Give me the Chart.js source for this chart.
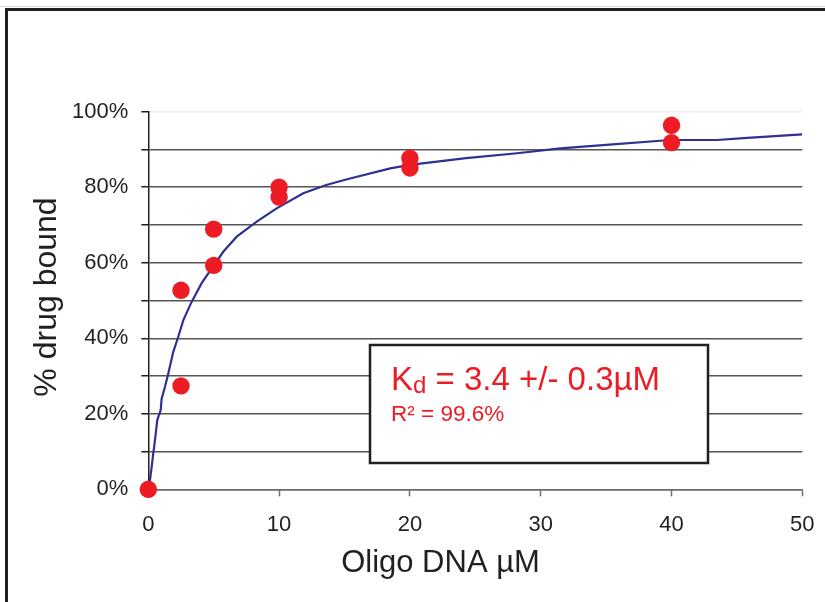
<!DOCTYPE html>
<html>
<head>
<meta charset="utf-8">
<script src="https://cdn.jsdelivr.net/npm/chart.js@4/dist/chart.umd.min.js"></script>
<style>
  html, body { margin: 0; padding: 0; background: #ffffff; }
  #wrap { position: relative; width: 825px; height: 602px; overflow: hidden; }
  #topline { position: absolute; left: 0; top: 6px; width: 825px; height: 1px; background: #d4d4d4; }
  #frame { position: absolute; left: 5px; top: 8px; width: 900px; height: 700px;
           border-left: 3px solid #231f20; border-top: 3px solid #231f20; }
  canvas { position: absolute; left: 0; top: 0; }
</style>
</head>
<body>
<div id="wrap">
  <div id="topline"></div>
  <div id="frame"></div>
  <canvas id="c" width="825" height="602"></canvas>
</div>
<script>
// Measured data points (Oligo DNA µM vs % drug bound)
const concentrations = [0, 2.5, 2.5, 5, 5, 10, 10, 20, 20, 40, 40];
const percentBound   = [0, 27.4, 52.7, 68.9, 59.3, 80.0, 77.4, 87.7, 85.1, 96.4, 91.8];

// Fitted binding curve
const curveX = [0, 0.13, 0.26, 0.38, 0.51, 0.69, 0.95, 1.02, 1.28, 1.53, 1.91, 2.29, 2.68, 3.32, 4.08, 4.85, 5.73, 6.76, 8.29, 9.81, 11.85, 13.6, 15.2, 18.5, 20, 24.3, 28.2, 31.5, 35.0, 39.9, 41.4, 43.5, 45.5, 50];
const curveY = [0, 2.5, 6, 9.5, 13, 18.4, 21, 24, 27.2, 30.7, 36.4, 40.4, 44.8, 49.7, 54.6, 58.5, 62.9, 66.9, 70.9, 74.4, 78.4, 80.6, 82.1, 85.0, 85.9, 87.7, 89.0, 90.3, 91.2, 92.5, 92.5, 92.5, 93.0, 94.0];

// Tick labels
const xTickLabels = ['0', '10', '20', '30', '40', '50'];
const yTickLabels = ['0%', '', '20%', '', '40%', '', '60%', '', '80%', '', '100%'];

// Texts
const xTitle = 'Oligo DNA \u00B5M';
const yTitle = '% drug bound';
const kdMain = 'K';
const kdSub = 'd';
const kdRest = ' = 3.4 +/- 0.3\u00B5M';
const r2Text = 'R\u00B2 = 99.6%';

const FONT = "'Liberation Sans', Arial, Helvetica, sans-serif";
const TEXT = '#231f20';
const RED = '#ed1c24';
const NAVY = '#2e3192';

const pointsData = concentrations.map((x, i) => ({ x: x, y: percentBound[i] }));
const curveData = curveX.map((x, i) => ({ x: x, y: curveY[i] }));

const overlay = {
  id: 'overlay',
  afterDraw(chart) {
    const ctx = chart.ctx;
    ctx.save();
    // Axis titles
    ctx.fillStyle = TEXT;
    ctx.font = '31px ' + FONT;
    ctx.textAlign = 'center';
    ctx.textBaseline = 'alphabetic';
    ctx.fillText(xTitle, 440.5, 571.5);
    ctx.save();
    ctx.font = '32px ' + FONT;
    ctx.translate(56, 297);
    ctx.rotate(-Math.PI / 2);
    ctx.fillText(yTitle, 0, 0);
    ctx.restore();

    // Annotation box
    ctx.fillStyle = '#ffffff';
    ctx.fillRect(370, 345, 338, 118);
    ctx.strokeStyle = TEXT;
    ctx.lineWidth = 2.5;
    ctx.strokeRect(370, 345, 338, 118);

    ctx.fillStyle = RED;
    ctx.textAlign = 'left';
    ctx.textBaseline = 'alphabetic';
    let x = 391;
    ctx.font = '33px ' + FONT;
    ctx.fillText(kdMain, x, 389.5);
    x += ctx.measureText(kdMain).width;
    ctx.font = '24px ' + FONT;
    ctx.fillText(kdSub, x, 392.5);
    x += ctx.measureText(kdSub).width;
    ctx.font = '33px ' + FONT;
    ctx.fillText(kdRest, x, 389.5);

    ctx.font = '22.5px ' + FONT;
    ctx.fillText(r2Text, 391, 420.5);
    ctx.restore();
  }
};

new Chart(document.getElementById('c'), {
  type: 'scatter',
  data: {
    datasets: [
      {
        label: 'data',
        data: pointsData,
        backgroundColor: RED,
        borderColor: RED,
        borderWidth: 0,
        pointRadius: 8.7,
        pointHoverRadius: 8.7,
        clip: false
      },
      {
        label: 'fit',
        data: curveData,
        showLine: true,
        borderColor: NAVY,
        borderWidth: 2.2,
        pointRadius: 0,
        pointHoverRadius: 0,
        tension: 0,
        fill: false
      }
    ]
  },
  options: {
    responsive: false,
    animation: false,
    devicePixelRatio: 1,
    layout: { padding: { left: 0, top: 111.7, right: 22.7, bottom: 0 } },
    plugins: { legend: { display: false }, tooltip: { enabled: false }, title: { display: false } },
    scales: {
      x: {
        type: 'linear',
        min: 0, max: 50,
        afterFit(s) { s.height = 112.7; s.paddingLeft = 0; s.paddingRight = 0; },
        border: { display: true, color: '#6d6e71', width: 1.5 },
        grid: { drawOnChartArea: false, drawTicks: true, tickLength: 7, tickColor: '#6d6e71', tickWidth: 1.5 },
        ticks: {
          stepSize: 10,
          padding: 15,
          color: TEXT,
          font: { family: FONT, size: 22 },
          maxRotation: 0,
          callback: (v, i) => xTickLabels[i]
        }
      },
      y: {
        type: 'linear',
        min: 0, max: 100,
        afterFit(s) { s.width = 148.3; s.paddingTop = 0; s.paddingBottom = 0; },
        border: { display: true, color: TEXT, width: 1.5 },
        grid: {
          drawOnChartArea: true,
          drawTicks: true,
          tickLength: 7,
          tickColor: TEXT,
          tickWidth: 1.5,
          lineWidth: 1.5,
          color: c => (c.tick && c.tick.value === 100) ? '#ededed' : '#555555'
        },
        ticks: {
          stepSize: 10,
          padding: 13,
          color: TEXT,
          font: { family: FONT, size: 22 },
          callback: (v, i) => yTickLabels[i]
        }
      }
    }
  },
  plugins: [overlay]
});
</script>
</body>
</html>
